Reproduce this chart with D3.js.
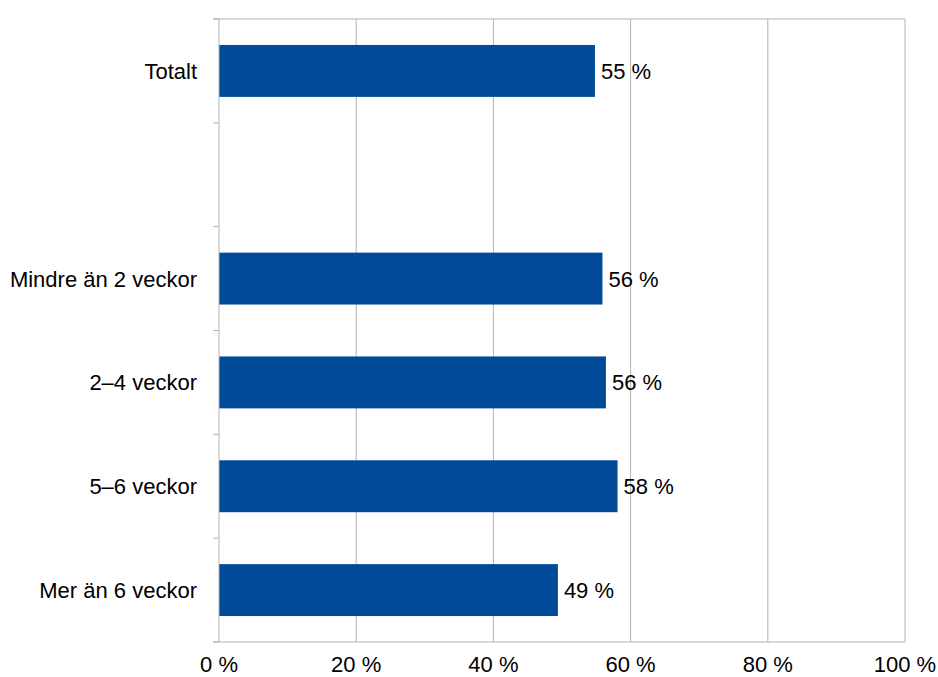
<!DOCTYPE html>
<html>
<head>
<meta charset="utf-8">
<script src="https://cdn.jsdelivr.net/npm/d3@7"></script>
<style>
  body { margin: 0; background: #fff; }
  text { font-family: "Liberation Sans", Arial, sans-serif; fill: #000; }
</style>
</head>
<body>
<div id="chart"></div>
<script>
// categories, top to bottom ("" is the empty slot)
const categories = ["Totalt", "", "Mindre än 2 veckor", "2–4 veckor", "5–6 veckor", "Mer än 6 veckor"];
const values = [54.8, null, 55.9, 56.4, 58.1, 49.4];
const valueLabels = ["55 %", "", "56 %", "56 %", "58 %", "49 %"];
const xTicks = [0, 20, 40, 60, 80, 100];

const width = 938, height = 677;
const margin = { top: 19, right: 33, bottom: 35, left: 219 };
const innerW = width - margin.left - margin.right;
const innerH = height - margin.top - margin.bottom;

const svg = d3.select("#chart")
    .append("svg")
    .attr("width", width)
    .attr("height", height);

const g = svg.append("g")
    .attr("transform", `translate(${margin.left},${margin.top})`);

const x = d3.scaleLinear().domain([0, 100]).range([0, innerW]);
const y = d3.scaleBand().domain(d3.range(categories.length)).range([0, innerH]).paddingInner(0.5).paddingOuter(0.25);
const yStep = innerH / categories.length;

// vertical gridlines
g.selectAll("line.grid")
    .data(xTicks.slice(1))
    .enter()
    .append("line")
    .attr("class", "grid")
    .attr("x1", d => x(d))
    .attr("x2", d => x(d))
    .attr("y1", 0)
    .attr("y2", innerH)
    .attr("stroke", "#b3b3b3")
    .attr("stroke-width", 1);

// top border line
g.append("line")
    .attr("x1", -6).attr("x2", innerW)
    .attr("y1", 0).attr("y2", 0)
    .attr("stroke", "#b3b3b3");

// bars
g.selectAll("rect.bar")
    .data(values.map((v, i) => ({ v, i })).filter(d => d.v != null))
    .enter()
    .append("rect")
    .attr("class", "bar")
    .attr("x", 0)
    .attr("y", d => y(d.i))
    .attr("width", d => x(d.v))
    .attr("height", y.bandwidth())
    .attr("fill", "#004a98");

// value labels
g.selectAll("text.val")
    .data(values.map((v, i) => ({ v, i })).filter(d => d.v != null))
    .enter()
    .append("text")
    .attr("class", "val")
    .attr("x", d => x(d.v) + 6)
    .attr("y", d => y(d.i) + y.bandwidth() / 2)
    .attr("dy", "0.36em")
    .style("font-size", "22px")
    .text(d => valueLabels[d.i]);

// y axis line + ticks
g.append("line")
    .attr("x1", 0).attr("x2", 0)
    .attr("y1", 0).attr("y2", innerH)
    .attr("stroke", "#b3b3b3");

g.selectAll("line.ytick")
    .data(d3.range(categories.length + 1))
    .enter()
    .append("line")
    .attr("class", "ytick")
    .attr("x1", -6).attr("x2", 0)
    .attr("y1", d => d * yStep)
    .attr("y2", d => d * yStep)
    .attr("stroke", "#b3b3b3");

// bottom axis line
g.append("line")
    .attr("x1", -6).attr("x2", innerW)
    .attr("y1", innerH).attr("y2", innerH)
    .attr("stroke", "#b3b3b3");

// category labels
g.selectAll("text.cat")
    .data(categories)
    .enter()
    .append("text")
    .attr("class", "cat")
    .attr("x", -22)
    .attr("y", (d, i) => y(i) + y.bandwidth() / 2)
    .attr("dy", "0.36em")
    .attr("text-anchor", "end")
    .style("font-size", "22px")
    .text(d => d);

// x tick labels
g.selectAll("text.xt")
    .data(xTicks)
    .enter()
    .append("text")
    .attr("class", "xt")
    .attr("x", d => x(d))
    .attr("y", innerH + 30)
    .attr("text-anchor", "middle")
    .style("font-size", "22px")
    .text(d => d + " %");
</script>
</body>
</html>
